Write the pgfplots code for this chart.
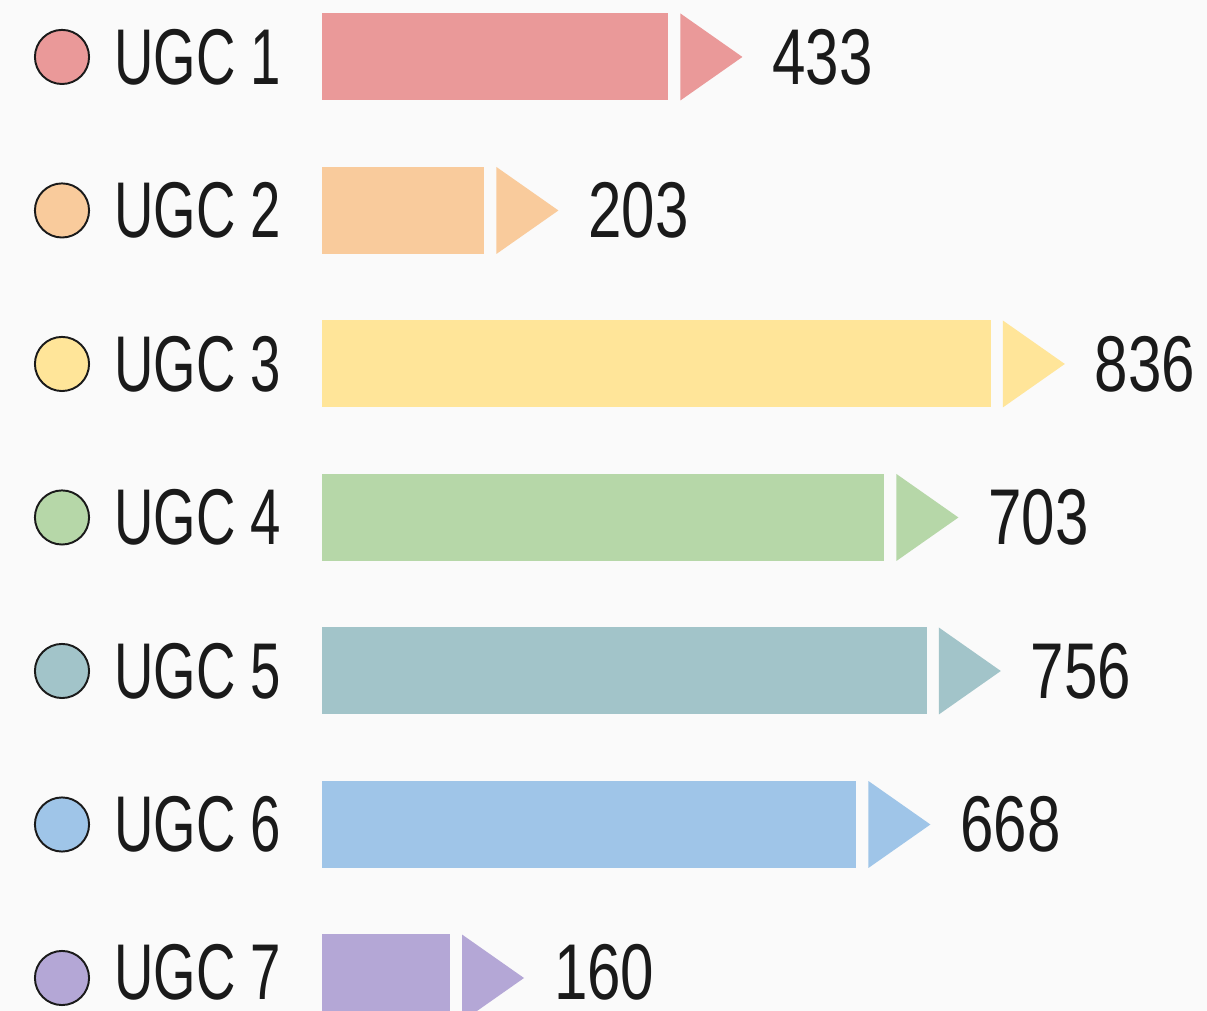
\documentclass[border=0pt]{standalone}
\usepackage{pgfplots}
\pgfplotsset{compat=1.18}
\usepackage{fontspec}
\setmainfont[FakeStretch=0.69]{Liberation Sans}
\newfontfamily\numfont[FakeStretch=0.76]{Liberation Sans}
\usetikzlibrary{backgrounds}
\definecolor{bgc}{HTML}{FAFAFA}
\definecolor{txt}{HTML}{1A1A1A}
\definecolor{c1}{HTML}{EA9999}
\definecolor{c2}{HTML}{F9CB9C}
\definecolor{c3}{HTML}{FFE599}
\definecolor{c4}{HTML}{B6D7A8}
\definecolor{c5}{HTML}{A2C4C9}
\definecolor{c6}{HTML}{9FC5E8}
\definecolor{c7}{HTML}{B4A7D6}
\pgfdeclareplotmark{arrowhead}{%
  \pgfpathmoveto{\pgfpoint{6.83pt}{24.75pt}}%
  \pgfpathlineto{\pgfpoint{42.11pt}{0pt}}%
  \pgfpathlineto{\pgfpoint{6.83pt}{-24.75pt}}%
  \pgfpathclose\pgfusepathqfill}
\newcommand{\bigfont}{\fontsize{45}{52}\selectfont}
% #1 row, #2 value, #3 colour, #4 name, #5 text yshift
\newcommand{\row}[5]{%
  \addplot[xbar, bar width=0.5668, bar shift=0pt, fill=#3, draw=none,
    point meta=explicit symbolic, nodes near coords,
    every node near coord/.append style={anchor=west, inner sep=0pt, xshift=59pt, yshift=#5, font=\numfont\bigfont, text=txt}]
    coordinates {(#2,#1) [#2]};
  \addplot[only marks, mark=arrowhead, mark options={fill=#3, draw=none}]
    coordinates {(#2,#1)};
  \addplot[only marks, mark=*, mark size=15.4pt,
    mark options={fill=#3, draw=txt, line width=1.1pt}]
    coordinates {(-325,#1)};
  \addplot[draw=none, mark=none, point meta=explicit symbolic, nodes near coords,
    every node near coord/.append style={anchor=west, inner sep=0pt, xshift=0pt, yshift=#5, font=\bigfont, text=txt}]
    coordinates {(-260,#1) [#4]};
}
\begin{document}
\begin{tikzpicture}[show background rectangle, inner frame sep=0pt,
  background rectangle/.style={fill=bgc, draw=none}]
\begin{axis}[
  width=24.14cm, height=20.22cm, scale only axis,
  xmin=-402.5, xmax=1106.25,
  ymin=-0.371, ymax=6.215, y dir=reverse,
  axis lines=none, xtick=\empty, ytick=\empty,
]
\row{0}{433}{c1}{UGC 1}{0pt}
\row{1}{203}{c2}{UGC 2}{0pt}
\row{2}{836}{c3}{UGC 3}{0pt}
\row{3}{703}{c4}{UGC 4}{0pt}
\row{4}{756}{c5}{UGC 5}{0pt}
\row{5}{668}{c6}{UGC 6}{0pt}
\row{6}{160}{c7}{UGC 7}{3pt}
\end{axis}
\pgfresetboundingbox
\path[use as bounding box] (current axis.south west) rectangle (current axis.north east);
\end{tikzpicture}
\end{document}
